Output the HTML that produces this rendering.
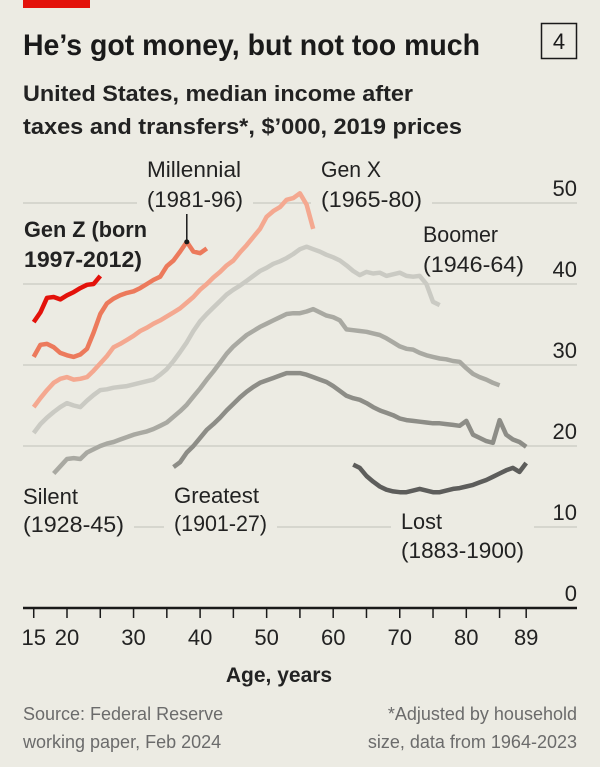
<!DOCTYPE html>
<html><head><meta charset="utf-8"><style>
html,body{margin:0;padding:0;background:#ecebe3;}
svg{display:block;font-family:"Liberation Sans Narrow","Liberation Sans",sans-serif;}
</style></head><body>
<svg id="chart" width="600" height="767" viewBox="0 0 600 767" xmlns="http://www.w3.org/2000/svg">
<rect x="0" y="0" width="600" height="767" fill="#ecebe3"/>
<rect x="23" y="0" width="67" height="8" fill="#e3120b"/>
<text x="23" y="55" font-size="30" font-weight="bold" fill="#1a1a1a" textLength="457" lengthAdjust="spacingAndGlyphs">He’s got money, but not too much</text>
<rect x="541.5" y="23.5" width="35" height="35" fill="none" stroke="#1a1a1a" stroke-width="1.5"/>
<text x="559" y="49" font-size="22" text-anchor="middle" fill="#1a1a1a">4</text>
<text x="23" y="101" font-size="22" font-weight="bold" fill="#222" textLength="390" lengthAdjust="spacingAndGlyphs">United States, median income after</text>
<text x="23" y="134" font-size="22" font-weight="bold" fill="#222" textLength="439" lengthAdjust="spacingAndGlyphs">taxes and transfers*, $’000, 2019 prices</text>
<g id="grid"></g>
<g id="labelbg"></g>
<g id="series"></g>
<g id="labels"></g>
<g id="axis"></g>
<text x="279" y="682" font-size="21" font-weight="bold" fill="#222" text-anchor="middle">Age, years</text>
<text x="23" y="720" font-size="18" fill="#6b6b6b">Source: Federal Reserve</text>
<text x="23" y="748" font-size="18" fill="#6b6b6b">working paper, Feb 2024</text>
<text x="577" y="720" font-size="18" fill="#6b6b6b" text-anchor="end">*Adjusted by household</text>
<text x="577" y="748" font-size="18" fill="#6b6b6b" text-anchor="end">size, data from 1964-2023</text>
</svg>
<script>
const yTicks = [0, 10, 20, 30, 40, 50];
const xTicks = [15, 20, 25, 30, 35, 40, 45, 50, 55, 60, 65, 70, 75, 80, 85, 89];
const xTickLabels = [15, 20, 30, 40, 50, 60, 70, 80, 89];
const genZStart = 15;
const genZ = [35.3,36.5,38.3,38.4,38.1,38.6,39.0,39.5,39.9,40.0,41.0];
const millStart = 15;
const millennial = [31.0,32.5,32.6,32.2,31.5,31.2,31.0,31.3,32.0,34.0,36.3,37.6,38.2,38.6,38.9,39.1,39.5,40.0,40.5,40.9,42.2,42.9,44.0,45.2,44.0,43.8,44.4];
const genXStart = 15;
const genX = [24.8,25.9,26.9,27.8,28.3,28.5,28.2,28.3,28.5,29.3,30.2,31.1,32.2,32.6,33.1,33.6,34.2,34.6,35.1,35.5,36.0,36.5,37.0,37.7,38.4,39.3,40.0,40.8,41.5,42.3,42.9,43.9,44.8,45.8,46.8,48.3,49.0,49.5,50.4,50.6,51.2,49.8,46.8];
const boomerStart = 15;
const boomer = [21.6,22.7,23.5,24.2,24.8,25.3,25.0,24.8,25.6,26.3,26.9,27.0,27.2,27.3,27.4,27.6,27.8,28.0,28.2,28.8,29.5,30.5,31.6,32.8,34.2,35.4,36.3,37.1,37.9,38.7,39.3,39.8,40.4,41.0,41.6,42.0,42.5,42.8,43.2,43.7,44.3,44.6,44.3,44.0,43.6,43.3,42.9,42.3,41.6,41.1,41.5,41.3,41.4,41.0,41.2,41.4,41.0,40.9,41.0,40.0,37.8,37.4];
const silentStart = 18;
const silent = [16.6,17.5,18.4,18.5,18.4,19.2,19.6,20.0,20.3,20.5,20.8,21.1,21.4,21.6,21.8,22.1,22.5,22.9,23.6,24.3,25.1,26.1,27.1,28.2,29.2,30.3,31.4,32.3,33.0,33.7,34.2,34.7,35.1,35.5,35.9,36.3,36.4,36.4,36.6,36.9,36.5,36.1,35.9,35.5,34.4,34.3,34.2,34.1,33.9,33.7,33.3,32.8,32.3,32.0,31.9,31.5,31.2,31.0,30.8,30.7,30.5,30.4,29.6,28.9,28.5,28.2,27.8,27.5];
const greatestStart = 36;
const greatest = [17.4,18.0,19.2,20.0,21.0,22.0,22.7,23.5,24.4,25.2,26.0,26.7,27.3,27.8,28.1,28.4,28.7,29.0,29.0,29.0,28.8,28.5,28.2,27.9,27.4,26.8,26.2,25.9,25.7,25.3,24.8,24.4,24.1,23.8,23.4,23.2,23.1,23.0,22.9,22.8,22.8,22.7,22.6,22.5,23.1,21.4,21.0,20.6,20.4,23.2,21.4,20.8,20.5,19.9];
const lostStart = 63;
const lost = [17.7,17.3,16.3,15.6,15.0,14.6,14.4,14.3,14.3,14.5,14.7,14.5,14.3,14.3,14.5,14.7,14.8,15.0,15.2,15.5,15.8,16.2,16.6,17.0,17.3,16.8,17.9];
const millMarkerAge = 38;

const NS = "http://www.w3.org/2000/svg";
const xScale = a => 67 + (a - 20) * 6.655;
const yScale = v => 608 - v * 8.1;
function mk(tag, attrs, parent) {
  const e = document.createElementNS(NS, tag);
  for (const k in attrs) e.setAttribute(k, attrs[k]);
  parent.appendChild(e);
  return e;
}
const grid = document.getElementById('grid');
const axis = document.getElementById('axis');
yTicks.forEach(v => {
  if (v > 0) {
    const l = mk('line', {x1: 23, x2: 577, y1: yScale(v), y2: yScale(v), stroke: '#cfcfc8', 'stroke-width': 1.5}, grid);
    
    
  }
  const t = mk('text', {x: 577, y: yScale(v) - 7, 'font-size': 22, fill: '#222', 'text-anchor': 'end'}, axis);
  t.textContent = v;
  
  
});
const axl = mk('line', {x1: 23, x2: 577, y1: 608, y2: 608, stroke: '#1a1a1a', 'stroke-width': 2.5}, axis);


xTicks.forEach(a => {
  const tk = mk('line', {x1: xScale(a), x2: xScale(a), y1: 608, y2: 618, stroke: '#1a1a1a', 'stroke-width': 1.5}, axis);
  
  
});
xTickLabels.forEach(a => {
  const t = mk('text', {x: xScale(a), y: 645, 'font-size': 22, fill: '#222', 'text-anchor': 'middle'}, axis);
  t.textContent = a;
  
  
});

const series = document.getElementById('series');
function drawSeries(name, start, vals, color) {
  const d = vals.map((v, i) => (i ? 'L' : 'M') + xScale(start + i).toFixed(1) + ',' + yScale(v).toFixed(1)).join(' ');
  const p = mk('path', {d: d, fill: 'none', stroke: color, 'stroke-width': 4.5, 'stroke-linejoin': 'round'}, series);
  
  
}
drawSeries('line-lost', lostStart, lost, '#5d5d5b');
drawSeries('line-greatest', greatestStart, greatest, '#8d8d87');
drawSeries('line-silent', silentStart, silent, '#a9a9a2');
drawSeries('line-boomer', boomerStart, boomer, '#cacac3');
drawSeries('line-gen-x', genXStart, genX, '#f4a890');
drawSeries('line-millennial', millStart, millennial, '#ec7a5c');
drawSeries('line-gen-z', genZStart, genZ, '#e3120b');

const mv = millennial[millMarkerAge - millStart];
const ml = mk('line', {x1: xScale(millMarkerAge), x2: xScale(millMarkerAge), y1: 214, y2: yScale(mv), stroke: '#1a1a1a', 'stroke-width': 1.5}, series);


const md = mk('circle', {cx: xScale(millMarkerAge), cy: yScale(mv), r: 2.5, fill: '#1a1a1a'}, series);



const labelBg = document.getElementById('labelbg');
const labels = document.getElementById('labels');
function label(name, x, y1, l1, w1, y2, l2, w2, bold) {
  const w = Math.max(w1, w2);
  const bg = mk('rect', {x: x - 10, y: y1 - 20, width: w + 20, height: y2 - y1 + 28, fill: '#ecebe3'}, labelBg);
  
  
  [[y1, l1, w1], [y2, l2, w2]].forEach(([y, s, w], i) => {
    const t = mk('text', {x: x, y: y, 'font-size': 22, fill: '#222', textLength: w, lengthAdjust: 'spacingAndGlyphs'}, labels);
    if (bold) t.setAttribute('font-weight', 'bold');
    t.textContent = s;
    
    
  });
}
label('millennial', 147, 177, 'Millennial', 94, 207, '(1981-96)', 96, false);
label('gen-x', 321, 177, 'Gen X', 60, 207, '(1965-80)', 101, false);
label('boomer', 423, 242, 'Boomer', 75, 272, '(1946-64)', 101, false);
label('gen-z', 24, 237, 'Gen Z (born', 123, 267, '1997-2012)', 118, true);
label('silent', 23, 504, 'Silent', 55, 532, '(1928-45)', 101, false);
label('greatest', 174, 503, 'Greatest', 85, 531, '(1901-27)', 93, false);
label('lost', 401, 529, 'Lost', 41, 558, '(1883-1900)', 123, false);
</script>
</body></html>
